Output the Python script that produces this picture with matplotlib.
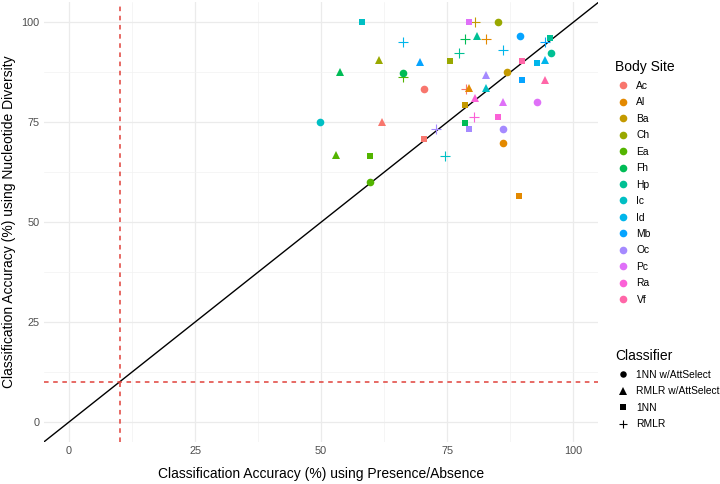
import matplotlib.pyplot as plt
from matplotlib.lines import Line2D

plt.rcParams['font.family'] = ['Liberation Sans', 'DejaVu Sans']

sites = ['Ac', 'Al', 'Ba', 'Ch', 'Ea', 'Fh', 'Hp', 'Ic', 'Id', 'Mb', 'Oc', 'Pc', 'Ra', 'Vf']
site_colors = ['#F8766D', '#E38900', '#C49A00', '#99A800', '#53B400', '#00BC56', '#00C094',
               '#00BFC4', '#00B6EB', '#06A4FF', '#A58AFF', '#DF70F8', '#FB61D7', '#FF66A8']
classifiers = ['1NN w/AttSelect', 'RMLR w/AttSelect', '1NN', 'RMLR']
class_markers = ['o', '^', 's', '+']

# one entry per point: body site, classifier, presence/absence acc, nucleotide diversity acc
pt_site = ['Ac', 'Ac', 'Ac', 'Ac',
           'Al', 'Al', 'Al', 'Al',
           'Ba', 'Ba', 'Ba',
           'Ch', 'Ch', 'Ch',
           'Ea', 'Ea', 'Ea', 'Ea',
           'Fh', 'Fh', 'Fh', 'Fh',
           'Hp', 'Hp', 'Hp', 'Hp',
           'Ic', 'Ic', 'Ic', 'Ic',
           'Id', 'Id', 'Id', 'Id',
           'Mb', 'Mb', 'Mb', 'Mb',
           'Oc', 'Oc', 'Oc', 'Oc',
           'Pc', 'Pc', 'Pc',
           'Ra', 'Ra', 'Ra',
           'Vf', 'Vf']
pt_class = ['1NN w/AttSelect', 'RMLR w/AttSelect', '1NN', 'RMLR',
            '1NN w/AttSelect', 'RMLR w/AttSelect', '1NN', 'RMLR',
            '1NN w/AttSelect', '1NN', 'RMLR',
            '1NN w/AttSelect', 'RMLR w/AttSelect', '1NN',
            '1NN w/AttSelect', 'RMLR w/AttSelect', '1NN', 'RMLR',
            '1NN w/AttSelect', 'RMLR w/AttSelect', '1NN', 'RMLR',
            '1NN w/AttSelect', 'RMLR w/AttSelect', '1NN', 'RMLR',
            '1NN w/AttSelect', 'RMLR w/AttSelect', '1NN', 'RMLR',
            'RMLR w/AttSelect', '1NN', 'RMLR', 'RMLR',
            '1NN w/AttSelect', 'RMLR w/AttSelect', '1NN', 'RMLR',
            '1NN w/AttSelect', 'RMLR w/AttSelect', '1NN', 'RMLR',
            '1NN w/AttSelect', 'RMLR w/AttSelect', '1NN',
            'RMLR w/AttSelect', '1NN', 'RMLR',
            'RMLR w/AttSelect', '1NN']
presence = [70.4, 62.1, 70.4, 78.8,
            86.1, 79.3, 89.3, 82.8,
            86.8, 78.6, 80.5,
            85.1, 61.5, 75.6,
            59.6, 53.0, 59.6, 66.3,
            66.3, 53.8, 78.6, 78.6,
            95.6, 80.9, 95.5, 77.3,
            49.7, 82.8, 58.1, 74.5,
            94.5, 92.8, 66.3, 86.1,
            89.4, 69.6, 89.9, 94.5,
            86.1, 82.8, 79.4, 72.8,
            92.8, 86.1, 79.4,
            80.5, 85.1, 80.4,
            94.5, 89.9]
diversity = [83.3, 75.0, 70.7, 83.3,
             69.9, 83.5, 56.6, 95.9,
             87.5, 79.2, 100.0,
             100.0, 90.5, 90.3,
             60.0, 66.8, 66.6, 86.4,
             87.4, 87.6, 74.8, 95.9,
             92.4, 96.5, 96.2, 92.4,
             75.0, 83.5, 100.0, 66.6,
             90.5, 89.9, 95.0, 93.2,
             96.5, 90.1, 85.7, 95.2,
             73.2, 86.8, 73.2, 73.2,
             80.0, 80.0, 100.0,
             81.0, 76.2, 76.2,
             85.7, 90.3]

# marker size per shape, so the glyphs look about as big as each other
shape_size = {'o': 5.5, '^': 6.4, 's': 4.8, '+': 6.5}


def marker_kw(m, c, scale=1.0):
    if m == '+':
        return dict(marker='+', color=c, ms=shape_size[m] * scale, mew=0.8, ls='none')
    return dict(marker=m, color=c, ms=shape_size[m] * scale, mew=0, ls='none')


fig = plt.figure(figsize=(7.2, 4.84), dpi=100)
ax = fig.add_axes([0.061, 0.087, 0.77, 0.908])

ax.set_xlim(-5, 105)
ax.set_ylim(-5, 105)
ticks = [0, 25, 50, 75, 100]
ax.set_xticks(ticks)
ax.set_yticks(ticks)
ax.set_xticks([12.5, 37.5, 62.5, 87.5], minor=True)
ax.set_yticks([12.5, 37.5, 62.5, 87.5], minor=True)
ax.grid(which='major', color='#EBEBEB', lw=0.9)
ax.grid(which='minor', color='#F2F2F2', lw=0.5)
ax.set_axisbelow(True)
for s in ax.spines.values():
    s.set_visible(False)
ax.tick_params(which='both', length=0, labelsize=7.8, labelcolor='#4D4D4D', pad=3)

ax.axline((0, 0), (1, 1), color='black', lw=1, zorder=2)
ax.axvline(10, color='#E0413B', lw=1.1, ls=(0, (3, 3)), zorder=2)
ax.axhline(10, color='#E0413B', lw=1.1, ls=(0, (3, 3)), zorder=2)

for site, cls, x, y in zip(pt_site, pt_class, presence, diversity):
    c = site_colors[sites.index(site)]
    m = class_markers[classifiers.index(cls)]
    ax.plot(x, y, zorder=3, **marker_kw(m, c))

ax.set_xlabel('Classification Accuracy (%) using Presence/Absence', fontsize=10, labelpad=8)
ax.set_ylabel('Classification Accuracy (%) using Nucleotide Diversity', fontsize=10, labelpad=4)

site_handles = [Line2D([0], [0], **marker_kw('o', c)) for c in site_colors]
leg1 = fig.legend(site_handles, sites, title='Body Site', loc='upper left',
                  bbox_to_anchor=(0.849, 0.884), frameon=False, fontsize=7.4,
                  title_fontsize=10, alignment='left', handletextpad=0.65,
                  labelspacing=0.63, handlelength=1.4, borderaxespad=0)

class_handles = [Line2D([0], [0], **marker_kw(m, 'black', 0.85)) for m in class_markers]
leg2 = fig.legend(class_handles, classifiers, title='Classifier', loc='upper left',
                  bbox_to_anchor=(0.849, 0.287), frameon=False, fontsize=7.4,
                  title_fontsize=10, alignment='left', handletextpad=0.65,
                  labelspacing=0.63, handlelength=1.4, borderaxespad=0)

fig.savefig('out.png', dpi=100)
